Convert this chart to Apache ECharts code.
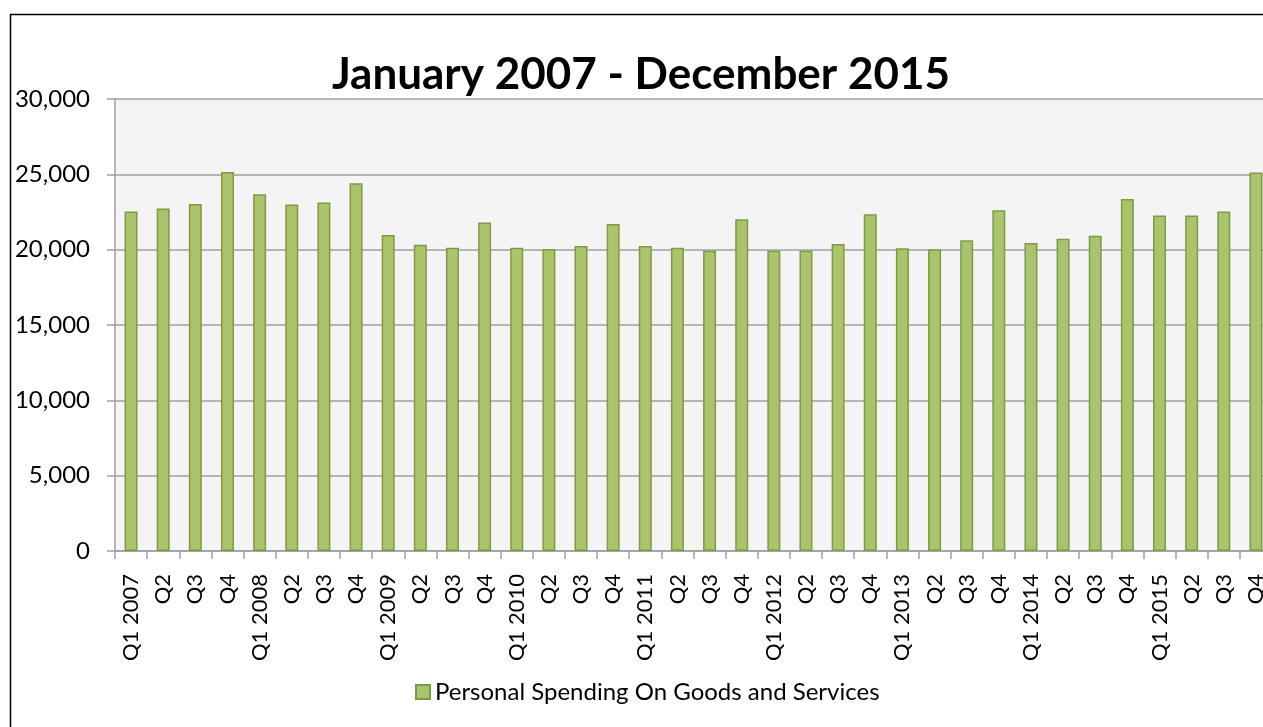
<!DOCTYPE html>
<html>
<head>
<meta charset="utf-8">
<script src="https://cdn.jsdelivr.net/npm/echarts@6/dist/echarts.min.js"></script>
<style>
  * { padding: 0; margin: 0; }
  html, body { width: 100%; height: 100%; overflow: hidden; background: #fff; }
  #chart { position: absolute; left: 0; top: 0; width: 1282px; height: 760px; }
</style>
</head>
<body>
<div id="chart"></div>
<script>
// quarters Q1 2007 .. Q4 2015
const quarters = [
  'Q1 2007', 'Q2', 'Q3', 'Q4',
  'Q1 2008', 'Q2', 'Q3', 'Q4',
  'Q1 2009', 'Q2', 'Q3', 'Q4',
  'Q1 2010', 'Q2', 'Q3', 'Q4',
  'Q1 2011', 'Q2', 'Q3', 'Q4',
  'Q1 2012', 'Q2', 'Q3', 'Q4',
  'Q1 2013', 'Q2', 'Q3', 'Q4',
  'Q1 2014', 'Q2', 'Q3', 'Q4',
  'Q1 2015', 'Q2', 'Q3', 'Q4'
];
const spending = [
  22530, 22730, 23030, 25160,
  23680, 22990, 23130, 24410,
  20970, 20330, 20130, 21800,
  20130, 20040, 20240, 21700,
  20240, 20130, 19930, 22020,
  19930, 19930, 20370, 22350,
  20090, 20020, 20620, 22610,
  20440, 20730, 20930, 23370,
  22260, 22260, 22530, 25120
];
const yTicks = { min: 0, max: 30000, interval: 5000 };
const seriesName = 'Personal Spending On Goods and Services';

const font = 'Lato, "Open Sans", sans-serif';
const chart = echarts.init(document.getElementById('chart'));
chart.setOption({
  animation: false,
  textStyle: { fontFamily: font },
  title: {
    text: 'January 2007 - December 2015',
    left: 'center',
    top: 48,
    textStyle: { fontFamily: font, fontSize: 44, fontWeight: 'bold', color: '#000' }
  },
  legend: {
    left: 410,
    top: 675,
    icon: 'rect',
    itemWidth: 14,
    itemHeight: 14,
    itemGap: 6,
    textStyle: { fontFamily: font, fontSize: 24, color: '#000' },
    data: [seriesName]
  },
  graphic: [{
    type: 'rect',
    shape: { x: 10.5, y: 14.5, width: 1500, height: 900 },
    style: { fill: 'none', stroke: '#000', lineWidth: 1.5 },
    silent: true
  }],
  grid: {
    left: 115,
    right: 10,
    top: 99,
    height: 452,
    show: true,
    backgroundColor: '#f4f4f4',
    borderWidth: 0
  },
  xAxis: {
    type: 'category',
    data: quarters,
    axisLine: { lineStyle: { color: '#a0a0a0', width: 1.5 } },
    axisTick: { show: true, length: 8, lineStyle: { color: '#a0a0a0', width: 1.5 } },
    axisLabel: {
      interval: 0,
      rotate: 90,
      margin: 23,
      fontSize: 22,
      color: '#000',
      fontFamily: font
    }
  },
  yAxis: {
    type: 'value',
    min: yTicks.min,
    max: yTicks.max,
    interval: yTicks.interval,
    axisLine: { show: true, lineStyle: { color: '#a0a0a0', width: 1.5 } },
    axisTick: { show: true, length: 8, lineStyle: { color: '#a0a0a0', width: 1.5 } },
    splitLine: { lineStyle: { color: '#a0a0a0', width: 1.5 } },
    axisLabel: {
      margin: 25,
      fontSize: 24,
      color: '#000',
      fontFamily: font,
      formatter: v => v.toLocaleString('en-US')
    }
  },
  series: [{
    name: seriesName,
    type: 'bar',
    data: spending,
    barWidth: 13,
    itemStyle: { color: '#aac46b', borderColor: '#7e9a47', borderWidth: 1.5 }
  }]
});
</script>
</body>
</html>
